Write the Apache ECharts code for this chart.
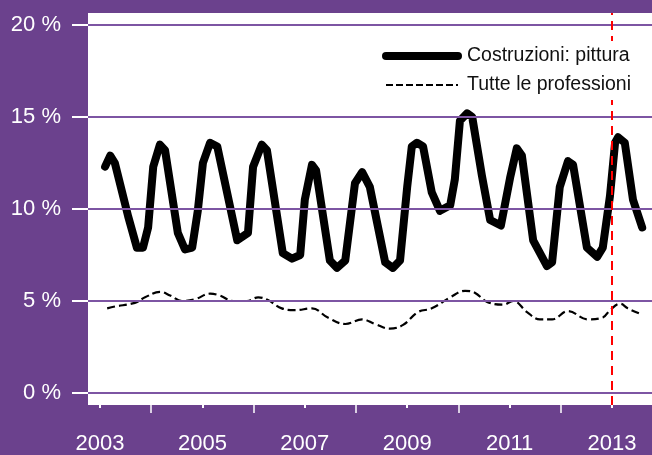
<!DOCTYPE html>
<html>
<head>
<meta charset="utf-8">
<script src="https://cdn.jsdelivr.net/npm/echarts@6/dist/echarts.min.js"></script>
<style>
  html, body { margin: 0; padding: 0; background: #6b418d; }
  #chart { width: 652px; height: 455px; }
</style>
</head>
<body>
<div id="chart"></div>
<script>
// valori (quota % sul totale)
const annoPittura = [2003.10, 2003.20, 2003.29, 2003.55, 2003.72, 2003.84, 2003.94,
  2004.04, 2004.17, 2004.27, 2004.52, 2004.66, 2004.80, 2004.91,
  2005.01, 2005.15, 2005.29, 2005.68, 2005.89, 2005.99,
  2006.16, 2006.26, 2006.57, 2006.75, 2006.91,
  2007.00, 2007.14, 2007.22, 2007.49, 2007.63, 2007.79, 2007.98,
  2008.12, 2008.27, 2008.57, 2008.72, 2008.86,
  2009.00, 2009.09, 2009.19, 2009.31, 2009.48, 2009.64, 2009.84, 2009.93,
  2010.03, 2010.17, 2010.27, 2010.46, 2010.62, 2010.83,
  2011.01, 2011.14, 2011.24, 2011.46, 2011.73, 2011.83, 2011.98,
  2012.14, 2012.24, 2012.51, 2012.71, 2012.82, 2012.96,
  2013.06, 2013.12, 2013.25, 2013.41, 2013.59]
const pittura = [12.3, 12.9, 12.5, 9.6, 7.9, 7.9, 9.0,
  12.3, 13.5, 13.2, 8.7, 7.8, 7.9, 9.9,
  12.5, 13.6, 13.4, 8.3, 8.7, 12.3,
  13.5, 13.2, 7.6, 7.3, 7.5,
  10.5, 12.4, 12.1, 7.2, 6.8, 7.2, 11.4,
  12.0, 11.2, 7.1, 6.8, 7.2,
  11.2, 13.4, 13.6, 13.4, 10.9, 9.9, 10.2, 11.6,
  14.8, 15.2, 15.0, 11.8, 9.4, 9.1,
  11.7, 13.3, 12.9, 8.3, 6.9, 7.1, 11.2,
  12.6, 12.4, 7.9, 7.4, 7.9, 10.7,
  13.6, 13.9, 13.6, 10.5, 9.0]

const annoTutte = [2003.14, 2003.29, 2003.68, 2003.88, 2004.17, 2004.37, 2004.60, 2004.86,
  2005.15, 2005.34, 2005.60, 2005.87, 2006.09, 2006.28, 2006.55, 2006.81,
  2007.14, 2007.45, 2007.79, 2008.12, 2008.37, 2008.66, 2008.92,
  2009.21, 2009.48, 2009.84, 2010.13, 2010.32, 2010.56, 2010.87,
  2011.07, 2011.34, 2011.59, 2011.83, 2012.14, 2012.53, 2012.82, 2012.96,
  2013.16, 2013.31, 2013.55]
const tutte = [4.6, 4.7, 4.9, 5.2, 5.5, 5.3, 5.0, 5.1,
  5.4, 5.3, 5.0, 5.0, 5.2, 5.05, 4.6, 4.5,
  4.6, 4.1, 3.75, 4.0, 3.75, 3.5, 3.7,
  4.4, 4.6, 5.2, 5.55, 5.45, 4.95, 4.8,
  5.0, 4.4, 4.0, 4.0, 4.45, 4.0, 4.1, 4.5,
  4.85, 4.6, 4.3]

const anniEtichetta = [2003, 2005, 2007, 2009, 2011, 2013]
const anniMinori = [2004, 2006, 2008, 2010, 2012]
const percentuali = [0, 5, 10, 15, 20]
const annoRiferimento = 2013

const nomi = ['Costruzioni: pittura', 'Tutte le professioni']

const font = "'Liberation Sans', Arial, sans-serif"
const viola = '#6b418d'
const xMin = 2002.7656
const xMax = 2013.7813
const yMin = -0.652
const yMax = 20.652

const chart = echarts.init(document.getElementById('chart'))

const option = {
  backgroundColor: viola,
  animation: false,
  textStyle: { fontFamily: font },
  grid: {
    left: 88,
    top: 13,
    right: 0,
    bottom: 50,
    show: true,
    backgroundColor: '#fff',
    borderWidth: 0,
  },
  legend: {
    orient: 'vertical',
    left: 377,
    top: 41,
    z: 10,
    backgroundColor: '#fff',
    padding: [5, 8, 5, 5],
    itemWidth: 72,
    itemHeight: 14,
    itemGap: 9,
    data: [
      { name: nomi[0], itemStyle: { opacity: 0 }, lineStyle: { width: 8, cap: 'round' } },
      { name: nomi[1], itemStyle: { opacity: 0 }, lineStyle: { width: 2, type: [7, 3] } },
    ],
    textStyle: { fontSize: 19.5, color: '#111', fontFamily: font, padding: [0, 0, 0, 4] },
  },
  xAxis: [
    {
      type: 'value',
      position: 'bottom',
      min: xMin,
      max: xMax,
      axisLine: { show: false },
      splitLine: { show: false },
      axisTick: { customValues: anniEtichetta, length: 15, lineStyle: { color: '#fff', width: 2 } },
      axisLabel: {
        customValues: anniEtichetta,
        formatter: (v) => String(v),
        color: '#fff',
        fontSize: 22,
        margin: 28,
        fontFamily: font,
      },
    },
    {
      type: 'value',
      position: 'bottom',
      min: xMin,
      max: xMax,
      axisLine: { show: false },
      splitLine: { show: false },
      axisTick: { customValues: anniMinori, length: 8, lineStyle: { color: '#fff', width: 1.5 } },
      axisLabel: { show: false },
    },
  ],
  yAxis: {
    type: 'value',
    min: yMin,
    max: yMax,
    axisLine: { show: false },
    splitLine: { show: false },
    axisTick: { show: true, customValues: percentuali, length: 16, lineStyle: { color: '#fff', width: 2 } },
    axisLabel: {
      customValues: percentuali,
      formatter: (v) => v + ' %',
      color: '#fff',
      fontSize: 22,
      margin: 27,
      fontFamily: font,
    },
  },
  series: [
    {
      // linee orizzontali della griglia
      type: 'line',
      data: [],
      silent: true,
      z: 1,
      markLine: {
        silent: true,
        symbol: 'none',
        label: { show: false },
        lineStyle: { color: '#7d55a3', width: 2, type: 'solid' },
        data: percentuali.map((p) => ({ yAxis: p })),
      },
    },
    {
      name: nomi[0],
      type: 'line',
      z: 3,
      symbol: 'none',
      data: annoPittura.map((a, i) => [a, pittura[i]]),
      lineStyle: { color: '#000', width: 8, cap: 'round', join: 'round' },
      itemStyle: { color: '#000' },
    },
    {
      name: nomi[1],
      type: 'line',
      z: 3,
      symbol: 'none',
      smooth: 0.4,
      data: annoTutte.map((a, i) => [a, tutte[i]]),
      lineStyle: { color: '#000', width: 2.2, type: [8, 4] },
      itemStyle: { color: '#000' },
    },
    {
      // linea rossa verticale
      type: 'line',
      data: [],
      silent: true,
      z: 4,
      markLine: {
        silent: true,
        symbol: 'none',
        label: { show: false },
        lineStyle: { color: '#ff0000', width: 2, type: [9, 6] },
        data: [{ xAxis: annoRiferimento }],
      },
    },
  ],
}

chart.setOption(option)
</script>
</body>
</html>
